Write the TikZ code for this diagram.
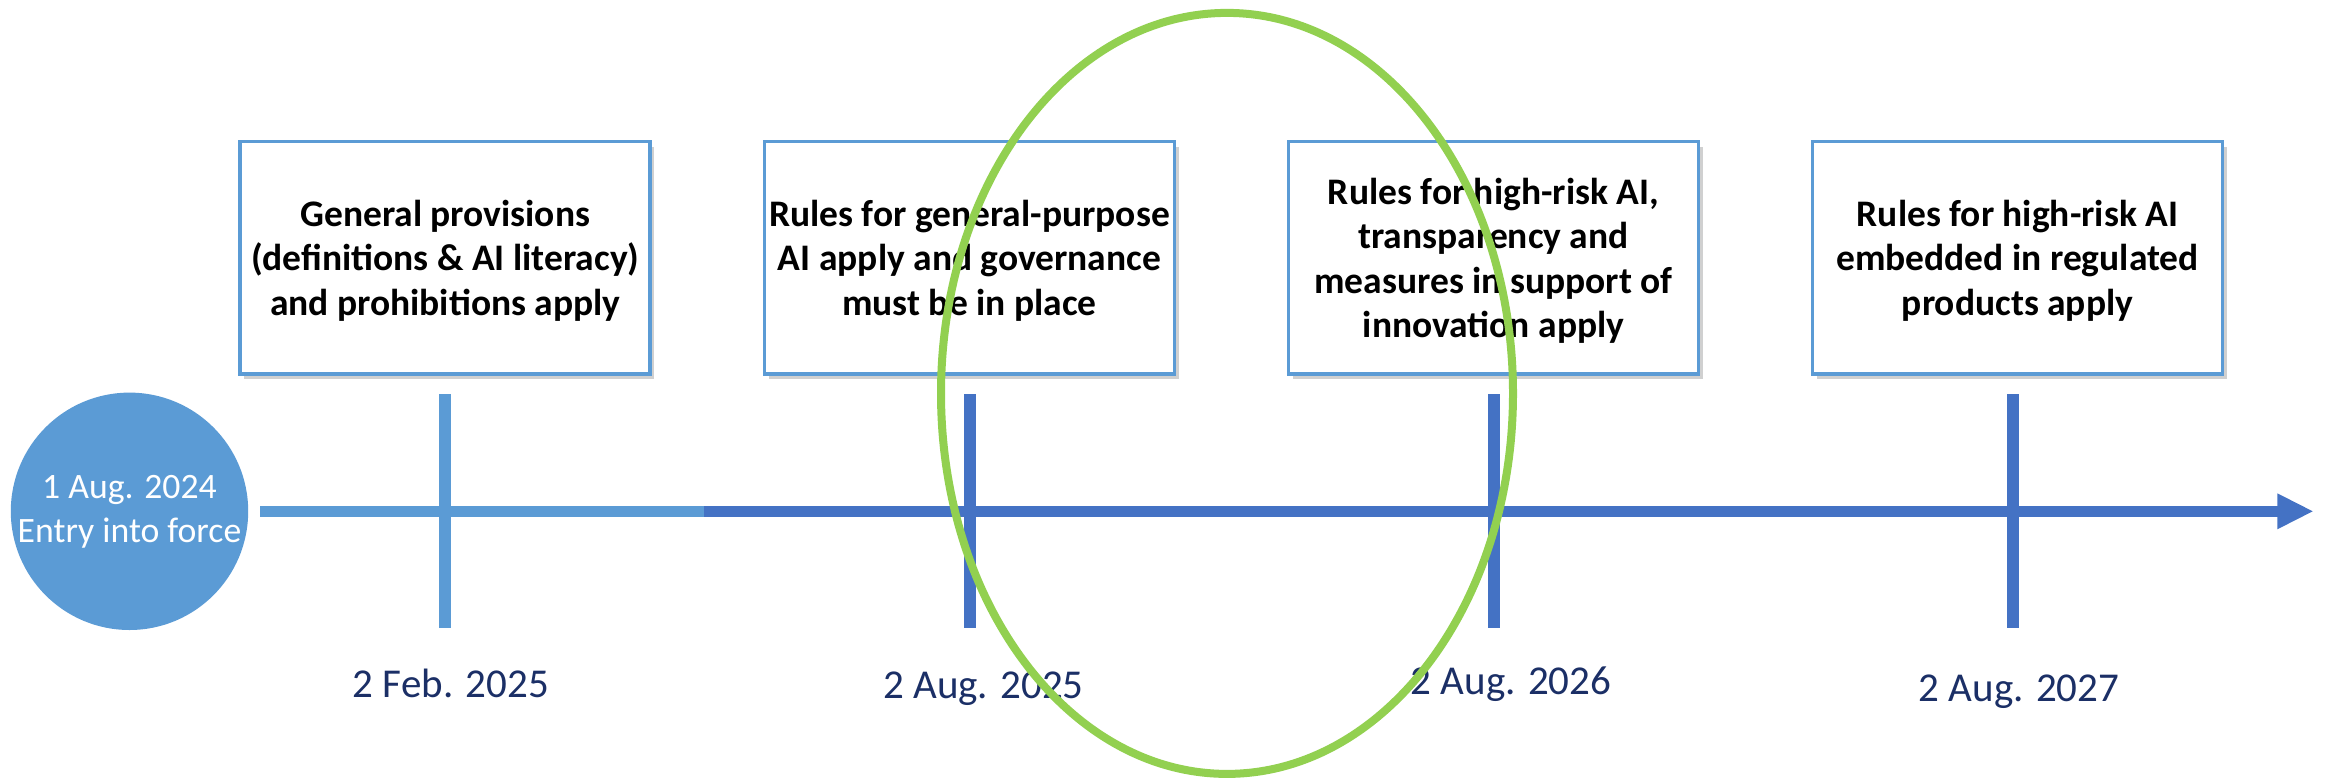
\documentclass[tikz,border=0pt]{standalone}
\usepackage{fontspec}
\setmainfont{Carlito}
\usetikzlibrary{shapes.geometric,shadows}
\definecolor{lblue}{HTML}{5B9BD5}
\definecolor{dblue}{HTML}{4472C4}
\definecolor{ovalgreen}{HTML}{92D050}
\definecolor{datenavy}{HTML}{1B2F66}
\begin{document}
\begin{tikzpicture}[x=1pt,y=-1pt,
  milestone/.style={rectangle, draw=lblue, line width=3.8pt, fill=white,
    minimum width=410pt, minimum height=232.5pt, inner sep=0pt, align=center,
    font=\fontsize{37.5}{44.5}\selectfont\bfseries, text depth=0pt,
    drop shadow={shadow xshift=4pt, shadow yshift=-5pt, opacity=0.3, fill=black!60}},
  datelbl/.style={anchor=base, inner sep=0pt, text=datenavy, font=\fontsize{41}{49}\selectfont},
  axisline/.style={line width=11.6pt, line cap=butt},
  tickline/.style={line width=12pt, line cap=butt},
  startdot/.style={circle, fill=lblue, minimum size=237.4pt, inner sep=0pt, text=white,
    align=center, font=\fontsize{35.7}{44}\selectfont},
  highlight/.style={ellipse, draw=ovalgreen, line width=8pt, minimum width=572pt,
    minimum height=761pt, inner sep=0pt}
]
\useasboundingbox (0,0) rectangle (2328,781);
\fill[white] (0,0) rectangle (2328,781);

% timeline
\coordinate (tlstart) at (260,511.5);
\coordinate (tlmid) at (704,511.5);
\coordinate (tlbase) at (2279,511.5);
\coordinate (tltip) at (2312.7,511.3);
\coordinate (tlup) at (2277.3,493.3);
\coordinate (tldown) at (2277.3,529.3);
\draw[axisline, lblue] (tlstart) -- (tlmid);
\draw[axisline, dblue] (tlmid) -- (tlbase);
\fill[dblue] (tlup) -- (tltip) -- (tldown) -- cycle;

% ticks
\coordinate (t1a) at (445.3,394.3); \coordinate (t1b) at (445.3,628.3);
\coordinate (t2a) at (969.7,394.3); \coordinate (t2b) at (969.7,628.3);
\coordinate (t3a) at (1493.8,394.3); \coordinate (t3b) at (1493.8,628.3);
\coordinate (t4a) at (2013,394.3); \coordinate (t4b) at (2013,628.3);
\draw[tickline, lblue] (t1a) -- (t1b);
\draw[tickline, dblue] (t2a) -- (t2b);
\draw[tickline, dblue] (t3a) -- (t3b);
\draw[tickline, dblue] (t4a) -- (t4b);

% start circle
\node[startdot] (start) at (129.5,511.3) {1 Aug. 2024\\Entry into force};

% boxes
\node[milestone] (b1) at (445.25,257.75) {General provisions\\(definitions \& AI literacy)\\and prohibitions apply};
\node[milestone] (b2) at (969.5,257.75) {Rules for general-purpose\\AI apply and governance\\must be in place};
\node[milestone] (b3) at (1493.5,257.75) {Rules for high-risk AI,\\transparency and\\measures in support of\\innovation apply};
\node[milestone] (b4) at (2017.5,257.75) {Rules for high-risk AI\\embedded in regulated\\products apply};

% dates
\node[datelbl] (d1) at (450.8,697.3) {2 Feb. 2025};
\node[datelbl] (d2) at (983.5,698) {2 Aug. 2025};
\node[datelbl] (d3) at (1511,694) {2 Aug. 2026};
\node[datelbl] (d4) at (2019,701) {2 Aug. 2027};

% highlight oval
\node[highlight] (oval) at (1227,393.4) {};
\end{tikzpicture}
\end{document}
